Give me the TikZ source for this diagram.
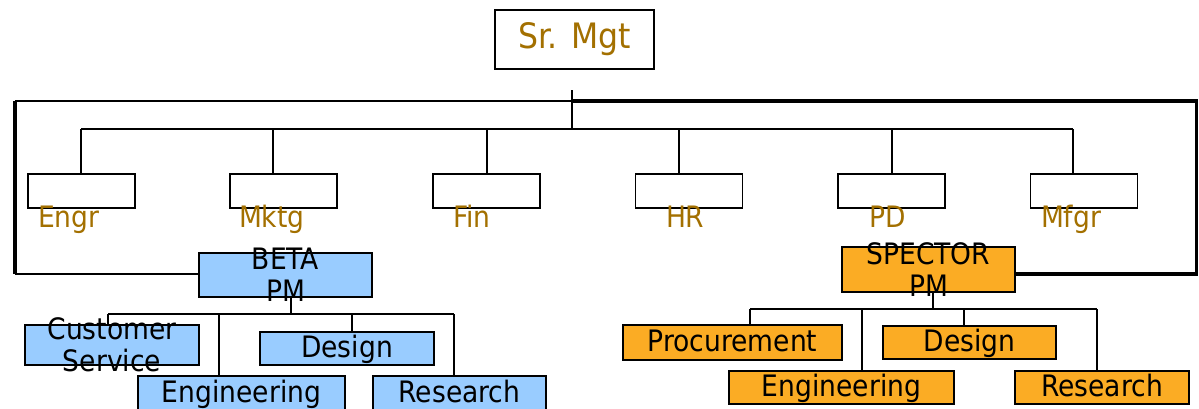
\documentclass[tikz,border=0pt]{standalone}
\usepackage{fontspec}
\setmainfont{DejaVu Sans Condensed}
\definecolor{gold}{RGB}{163,112,0}
\definecolor{skyfill}{RGB}{153,204,255}
\definecolor{amberfill}{RGB}{251,172,36}
\newcommand{\bodyfont}{\fontsize{29.5}{32}\selectfont}
\newcommand{\headfont}{\fontsize{35}{40}\selectfont}
\begin{document}
\begin{tikzpicture}[x=1pt,y=-1pt,
  every node/.style={inner sep=0pt,outer sep=0pt},
  sz/.style 2 args={minimum width=#1pt,minimum height=#2pt},
  unitbox/.style={draw=black,line width=1.6pt,fill=white,rectangle},
  teambox/.style={draw=black,line width=1.6pt,rectangle,font=\bodyfont,
    text height=21pt,text depth=3pt},
  betabox/.style={teambox,fill=skyfill},
  spectorbox/.style={teambox,fill=amberfill},
  unitlabel/.style={anchor=base west,text=gold,font=\bodyfont},
  twoline/.style={label={[font=\bodyfont,align=center]center:#1}},
  link/.style={line width=1.5pt},
  loopthin/.style={line width=1.8pt},
  loopthick/.style={line width=3.4pt},
]
\useasboundingbox (0,0) rectangle (1199,408);

% senior management
\node[unitbox,sz={159}{59},text=gold,font=\headfont] (sr) at (574.5,39.5) {Sr. Mgt};

% functional units
\node[unitbox,sz={107}{34}] (engr) at (81.5,191) {};
\node[unitbox,sz={107}{34}] (mktg) at (283.5,191) {};
\node[unitbox,sz={107}{34}] (fin)  at (486.5,191) {};
\node[unitbox,sz={107}{34}] (hr)   at (689,191) {};
\node[unitbox,sz={107}{34}] (pd)   at (891.5,191) {};
\node[unitbox,sz={107}{34}] (mfgr) at (1084,191) {};

\node[unitlabel] (engrlbl) at (38,227) {Engr};
\node[unitlabel] (mktglbl) at (239,227) {Mktg};
\node[unitlabel] (finlbl)  at (453,227) {Fin};
\node[unitlabel] (hrlbl)   at (666,227) {HR};
\node[unitlabel] (pdlbl)   at (869,227) {PD};
\node[unitlabel] (mfgrlbl) at (1041,227) {Mfgr};

% project BETA
\node[betabox,sz={173}{44},twoline={BETA\\PM}] (beta) at (285.5,275) {};
\node[betabox,sz={174}{40},twoline={Customer\\Service}] (bcs) at (112,345) {};
\node[betabox,sz={174}{33}] (bdes) at (347,348.5) {Design};
\node[betabox,sz={207}{34}] (beng) at (241.5,393) {Engineering};
\node[betabox,sz={173}{34}] (bres) at (459.5,393) {Research};

% project SPECTOR
\node[spectorbox,sz={173}{45},twoline={SPECTOR\\PM}] (spec) at (928.5,269.5) {};
\node[spectorbox,sz={219}{35}] (sproc) at (732.5,342.5) {Procurement};
\node[spectorbox,sz={173}{33}] (sdes) at (969.5,342.5) {Design};
\node[spectorbox,sz={225}{33}] (seng) at (841.5,387.5) {Engineering};
\node[spectorbox,sz={174}{33}] (sres) at (1102,387.5) {Research};

% reporting lines from senior management
\coordinate (hub) at (572,101);
\coordinate (hubtop) at (572,90);
\coordinate (busL) at (81,129);
\coordinate (busR) at (1073,129);
\draw[link] (hubtop) -- (hub |- busL);
\draw[link] (busL) -- (busR);
\foreach \n/\x in {engr/81,mktg/273,fin/487,hr/679,pd/892,mfgr/1073}
  \draw[link] (\x,129) -- (\x,0 |- \n.north);

% line to the BETA project manager
\coordinate (lcorner) at (15,101);
\coordinate (lfoot) at (15,274);
\draw[loopthin] (hub) -- (lcorner);
\draw[loopthick] (lcorner) -- (lfoot);
\draw[loopthin] (lfoot) -- (beta.west |- lfoot);

% line to the SPECTOR project manager
\coordinate (rcorner) at (1196.5,101);
\coordinate (rfoot) at (1196.5,274);
\draw[loopthick,line join=miter] (hub) -- (rcorner) -- (rfoot) -- (spec.east |- rfoot);

% BETA team
\coordinate (bbusL) at (108,314);
\coordinate (bbusR) at (454,314);
\draw[link] (beta.south -| 291,0) -- (291,314);
\draw[link] (bbusL) -- (bbusR);
\draw[link] (bbusL) -- (bcs.north -| bbusL);
\draw[link] (219,314) -- (219,0 |- beng.north);
\draw[link] (352,314) -- (352,0 |- bdes.north);
\draw[link] (bbusR) -- (bres.north -| bbusR);

% SPECTOR team
\coordinate (sbusL) at (750,309);
\coordinate (sbusR) at (1097,309);
\draw[link] (spec.south -| 933,0) -- (933,309);
\draw[link] (sbusL) -- (sbusR);
\draw[link] (sbusL) -- (sproc.north -| sbusL);
\draw[link] (862,309) -- (862,0 |- seng.north);
\draw[link] (964,309) -- (964,0 |- sdes.north);
\draw[link] (sbusR) -- (sres.north -| sbusR);
\end{tikzpicture}
\end{document}
